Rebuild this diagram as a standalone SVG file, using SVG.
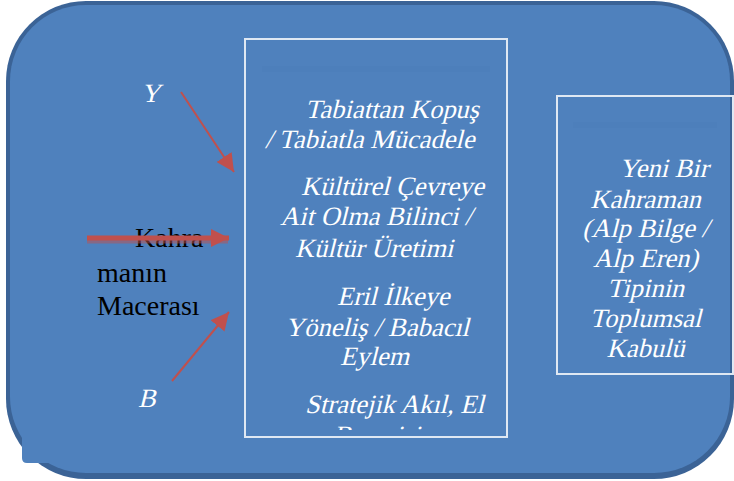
<svg xmlns="http://www.w3.org/2000/svg" width="734" height="481" viewBox="0 0 734 481">
<defs>
<style>
.wt{font-family:"Liberation Serif","Times New Roman",serif;font-size:26.5px;fill:#ffffff}
.bk{font-family:"Liberation Serif","Times New Roman",serif;font-size:28px;fill:#000000}
.box{fill:none;stroke:#dfe8f3;stroke-width:2}
.arr{stroke:#c0504d;fill:none}
.mid{text-anchor:middle}
</style>
<marker id="ah" markerUnits="userSpaceOnUse" markerWidth="18" markerHeight="18" viewBox="0 0 16 16" refX="16" refY="8" orient="auto">
<path d="M0,0 L16,8 L0,16 Z" fill="#c0504d"/>
</marker>
<clipPath id="c1"><rect x="246" y="39" width="260" height="391"/></clipPath>
</defs>
<g id="background">
<rect x="6" y="1" width="728" height="478" rx="80" fill="#3b6396"/>
<rect x="10" y="5" width="720" height="468" rx="76" fill="#4f81bd"/>
<path d="M22,425 L60,425 L60,463 L27,463 Q22,463 22,458 Z" fill="#4f81bd"/>
</g>
<g id="node-center">
<rect class="box" x="245" y="39" width="262" height="398"/>
<rect x="262" y="66" width="228" height="6" fill="#4a7bb5" opacity="0.3"/>
<text class="wt" transform="translate(305,118) skewX(-14)">Tabiattan Kopuş</text>
<text class="wt" transform="translate(265,148) skewX(-14)">/ Tabiatla Mücadele</text>
<text class="wt" transform="translate(301,195) skewX(-14)">Kültürel Çevreye</text>
<text class="wt" transform="translate(280,225) skewX(-14)">Ait Olma Bilinci /</text>
<text class="wt" transform="translate(295,257) skewX(-14)">Kültür Üretimi</text>
<text class="wt" transform="translate(337,305) skewX(-14)">Eril İlkeye</text>
<text class="wt" transform="translate(285,336) skewX(-14)">Yöneliş / Babacıl</text>
<text class="wt" transform="translate(340,365) skewX(-14)">Eylem</text>
<text class="wt" transform="translate(305,413) skewX(-14)">Stratejik Akıl, El</text>
<g clip-path="url(#c1)"><text class="wt" transform="translate(333,444) skewX(-14)">Becerisi</text></g>
</g>
<g id="node-right">
<rect class="box" x="557" y="96" width="176" height="278"/>
<rect x="573" y="122" width="144" height="6" fill="#4a7bb5" opacity="0.3"/>
<text class="wt" transform="translate(619,177) skewX(-14)">Yeni Bir</text>
<text class="wt mid" transform="translate(645.5,208) skewX(-14)">Kahraman</text>
<text class="wt mid" transform="translate(645.5,237) skewX(-14)">(Alp Bilge /</text>
<text class="wt mid" transform="translate(645.5,267) skewX(-14)">Alp Eren)</text>
<text class="wt mid" transform="translate(645.5,297) skewX(-14)">Tipinin</text>
<text class="wt mid" transform="translate(645.5,327) skewX(-14)">Toplumsal</text>
<text class="wt mid" transform="translate(645.5,357) skewX(-14)">Kabulü</text>
</g>
<g id="node-left">
<text class="wt" transform="translate(141,102) skewX(-14)">Y</text>
<text class="bk" x="135" y="247">Kahra</text>
<text class="bk" x="97" y="282">manın</text>
<text class="bk" x="97" y="315">Macerası</text>
<text class="wt" transform="translate(138,407) skewX(-14)">B</text>
</g>
<g id="connectors">
<path class="arr" d="M87,241 L228,241" stroke="#2f4f78" stroke-width="5" opacity="0.5"/>
<path class="arr" d="M181,92 L234,172" stroke-width="2" marker-end="url(#ah)"/>
<path class="arr" d="M87,238 L229,238" stroke-width="5" marker-end="url(#ah)"/>
<path class="arr" d="M172,381 L229,312" stroke-width="2" marker-end="url(#ah)"/>
</g>
</svg>
